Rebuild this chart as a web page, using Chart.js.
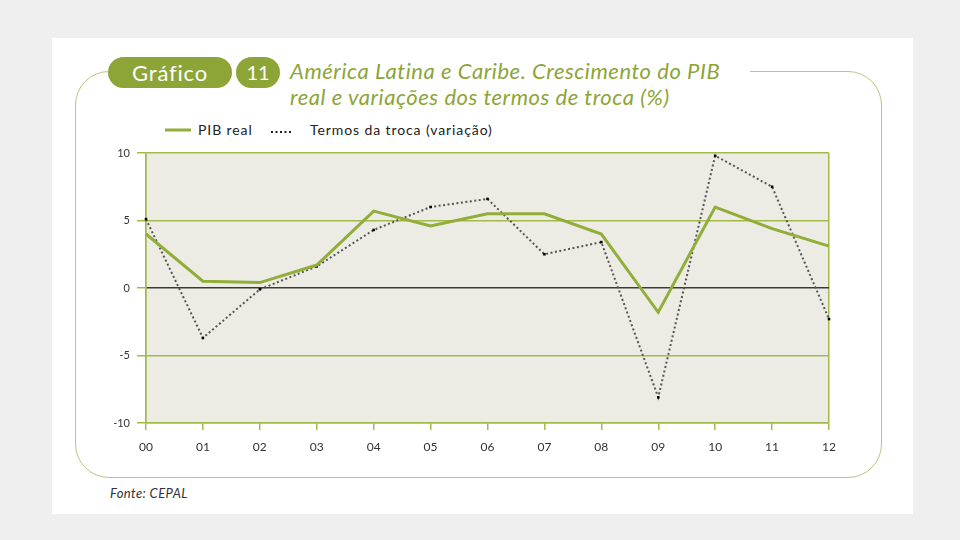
<!DOCTYPE html>
<html lang="pt">
<head>
<meta charset="utf-8">
<title>Gráfico 11</title>
<script src="https://cdn.jsdelivr.net/npm/chart.js@4.4.1/dist/chart.umd.min.js"></script>
<style>
  html, body { margin: 0; padding: 0; }
  body { width: 960px; height: 540px; background: #efefef; position: relative; overflow: hidden; font-family: Lato, 'Open Sans', sans-serif; }
  .card { position: absolute; left: 52px; top: 38px; width: 861px; height: 476px; background: #fff; }
  .frame { position: absolute; left: 75px; top: 71px; width: 805px; height: 405px; border: 1.5px solid #b8c77e; border-radius: 34px; }
  .mask { position: absolute; left: 108px; top: 62px; width: 642px; height: 20px; background: #fff; }
  .pill { position: absolute; left: 108px; top: 57px; width: 124px; height: 31px; border-radius: 16px; background: #8ca536; color: #fff; font-size: 22px; letter-spacing: 0.8px; line-height: 31px; text-align: center; }
  .num { position: absolute; left: 236px; top: 57px; width: 44px; height: 31px; border-radius: 16px; background: #8ca536; color: #fff; font-size: 20px; line-height: 31px; text-align: center; }
  .title { position: absolute; left: 290px; top: 58px; color: #8ca536; font-style: italic; font-size: 22px; letter-spacing: 0.55px; line-height: 26px; white-space: nowrap; }
  .lg { position: absolute; top: 121px; height: 18px; line-height: 18px; font-size: 14px; letter-spacing: 0.9px; color: #222; white-space: nowrap; }
  .lg svg { position: absolute; top: 0; }
  .source { position: absolute; left: 110px; top: 485px; font-size: 13px; letter-spacing: 0.4px; font-style: italic; color: #333; }
  canvas { position: absolute; left: 0; top: 0; }
</style>
</head>
<body>
<div class="card"></div>
<div class="frame"></div>
<div class="mask"></div>
<div class="pill">Gráfico</div>
<div class="num">11</div>
<div class="title">América Latina e Caribe. Crescimento do PIB<br>real e variações dos termos de troca (%)</div>
<svg class="lg" style="left:165px" width="26" height="18"><line x1="0" y1="9" x2="26" y2="9" stroke="#92ad3a" stroke-width="3"/></svg>
<div class="lg" style="left:198px">PIB real</div>
<svg class="lg" style="left:270px" width="22" height="18"><line x1="1" y1="11" x2="21" y2="11" stroke="#222" stroke-width="2" stroke-dasharray="2 2.5"/></svg>
<div class="lg" style="left:310px">Termos da troca (variação)</div>
<div class="source">Fonte: CEPAL</div>
<canvas id="chart" width="960" height="540"></canvas>
<script>
const years = ['00', '01', '02', '03', '04', '05', '06', '07', '08', '09', '10', '11', '12'];
const pibReal = [4.0, 0.5, 0.4, 1.7, 5.7, 4.6, 5.5, 5.5, 4.0, -1.8, 6.0, 4.4, 3.1];
const termosTroca = [5.1, -3.7, -0.1, 1.6, 4.3, 6.0, 6.6, 2.5, 3.4, -8.1, 9.8, 7.5, -2.3];
const yTicks = [-10, -5, 0, 5, 10];

const green = '#a2b94c';

const plotBackground = {
  id: 'plotBackground',
  beforeDraw(chart) {
    const { ctx, chartArea } = chart;
    ctx.save();
    ctx.fillStyle = '#ecece4';
    ctx.fillRect(chartArea.left, chartArea.top, chartArea.right - chartArea.left, chartArea.bottom - chartArea.top);
    ctx.restore();
  },
};

const ctx = document.getElementById('chart').getContext('2d');
const chart = new Chart(ctx, {
  type: 'line',
  data: {
    labels: years,
    datasets: [
      {
        label: 'PIB real',
        data: pibReal,
        borderColor: '#92ad3a',
        borderWidth: 3,
        pointRadius: 0,
        tension: 0,
      },
      {
        label: 'Termos da troca (variação)',
        data: termosTroca,
        borderColor: '#555',
        borderWidth: 2,
        borderDash: [2, 2.5],
        pointStyle: 'rect',
        pointRadius: 1.8,
        pointBackgroundColor: '#000',
        pointBorderWidth: 0,
        tension: 0,
      },
    ],
  },
  options: {
    responsive: false,
    animation: false,
    devicePixelRatio: 1,
    layout: {
      padding: { left: 106, top: 153, right: 131, bottom: 82 },
    },
    plugins: {
      legend: { display: false },
      tooltip: { enabled: false },
    },
    scales: {
      x: {
        offset: false,
        afterFit: (scale) => { scale.height = 35; },
        border: { color: green, width: 1.5 },
        grid: {
          color: (c) => (c.index === 0 || c.index === years.length - 1 ? green : 'transparent'),
          tickColor: green,
          lineWidth: 1.5,
          tickLength: 7,
        },
        ticks: {
          color: '#333',
          font: { family: 'Lato', size: 12 },
          padding: 10,
          maxRotation: 0,
        },
      },
      y: {
        min: yTicks[0],
        max: yTicks[yTicks.length - 1],
        afterFit: (scale) => { scale.width = 40; },
        afterBuildTicks: (scale) => { scale.ticks = yTicks.map((v) => ({ value: v })); },
        border: { color: green, width: 1.5 },
        grid: {
          color: (c) => (c.tick && c.tick.value === 0 ? '#3a3a3a' : green),
          tickColor: green,
          lineWidth: 1.5,
          tickLength: 9,
        },
        ticks: {
          color: '#333',
          font: { family: 'Lato', size: 11 },
          padding: 7,
        },
      },
    },
  },
  plugins: [plotBackground],
});
</script>
</body>
</html>
